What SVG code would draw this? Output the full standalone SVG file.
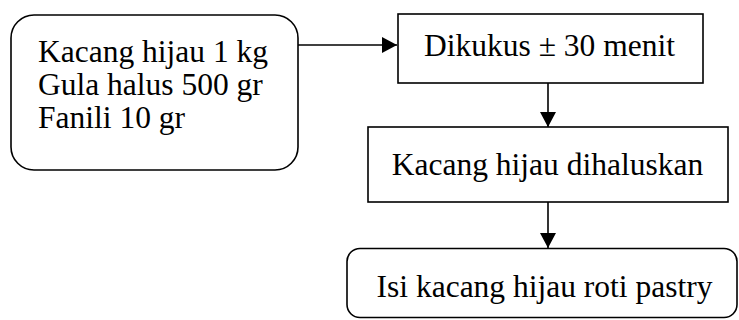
<svg xmlns="http://www.w3.org/2000/svg" width="739" height="320" viewBox="0 0 739 320">
  <style>
    .box { fill: #ffffff; stroke: #000000; stroke-width: 1.6; }
    .lbl { font-family: "Liberation Serif", "Times New Roman", serif; font-size: 31.5px; fill: #000000; }
    .mid { text-anchor: middle; }
    .edge { fill: none; stroke: #000000; stroke-width: 1.6; }
  </style>
  <defs>
    <marker id="arrow" markerUnits="userSpaceOnUse" markerWidth="15" markerHeight="16" refX="15" refY="8" orient="auto">
      <path d="M0,0 L15,8 L0,16 Z" fill="#000000"/>
    </marker>
  </defs>
  <rect width="739" height="320" fill="#ffffff"/>

  <g id="connectors">
    <line class="edge" x1="298" y1="45" x2="397" y2="45" marker-end="url(#arrow)"/>
    <line class="edge" x1="548" y1="83" x2="548" y2="127" marker-end="url(#arrow)"/>
    <line class="edge" x1="548" y1="202" x2="548" y2="248" marker-end="url(#arrow)"/>
  </g>

  <g id="bahan">
    <rect class="box" x="11" y="15" width="287" height="155" rx="23" ry="23"/>
    <text class="lbl" x="38" y="62">Kacang hijau 1 kg</text>
    <text class="lbl" x="38" y="95">Gula halus 500 gr</text>
    <text class="lbl" x="38" y="128">Fanili 10 gr</text>
  </g>

  <g id="dikukus">
    <rect class="box" x="398" y="14" width="305" height="69"/>
    <text class="lbl mid" x="549.5" y="56">Dikukus ± 30 menit</text>
  </g>

  <g id="dihaluskan">
    <rect class="box" x="368" y="127" width="360" height="75"/>
    <text class="lbl mid" x="547.5" y="175">Kacang hijau dihaluskan</text>
  </g>

  <g id="isi">
    <rect class="box" x="347" y="248.5" width="390" height="69" rx="13" ry="13"/>
    <text class="lbl mid" x="544.5" y="297">Isi kacang hijau roti pastry</text>
  </g>
</svg>
